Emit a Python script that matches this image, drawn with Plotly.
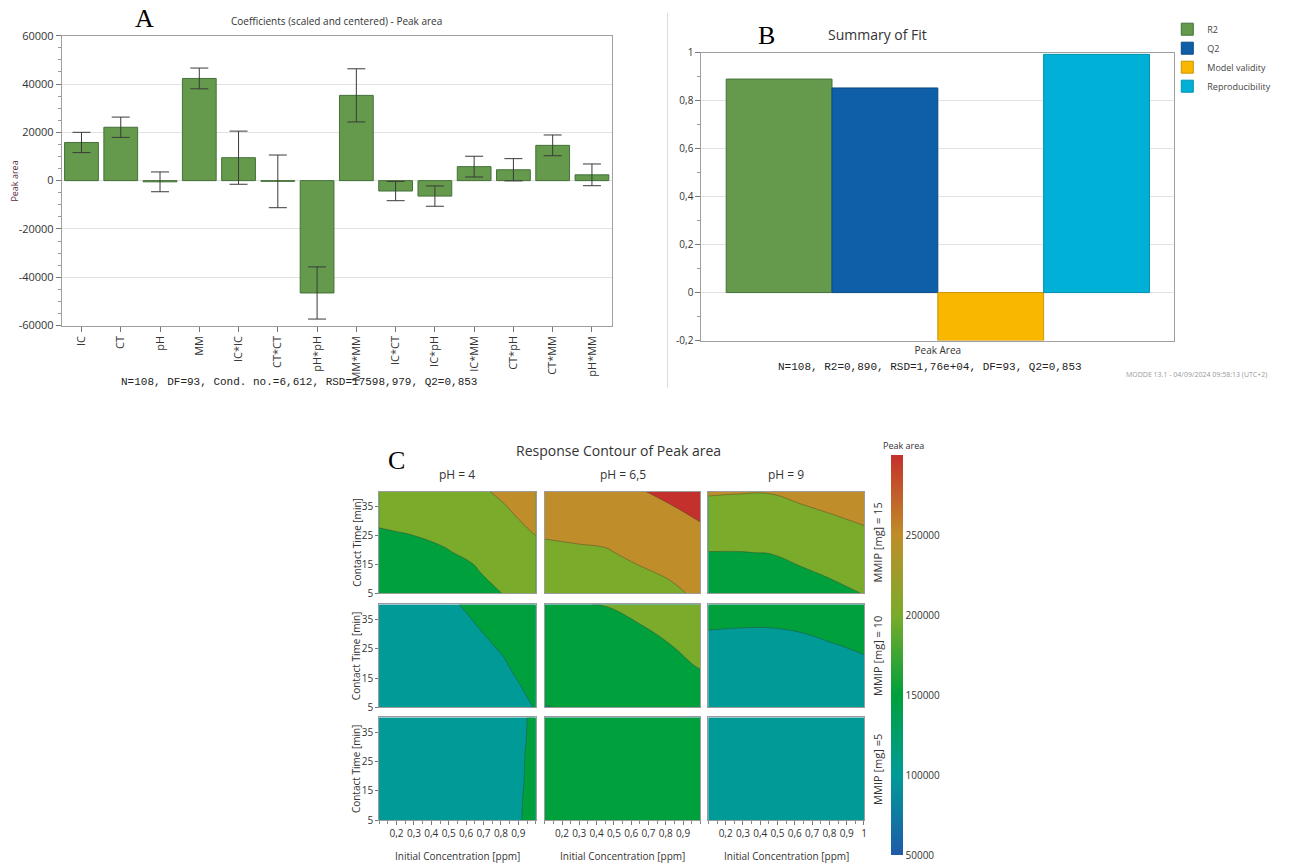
import plotly.graph_objects as go

W, H = 1295, 864
SANS = "Open Sans, Noto Sans, DejaVu Sans, sans-serif"
MONO = "Liberation Mono, DejaVu Sans Mono, monospace"
SERIF = "Liberation Serif, DejaVu Serif, serif"

# ---------------- Panel A data ----------------
COEF_TERMS = ["IC", "CT", "pH", "MM", "IC*IC", "CT*CT", "pH*pH", "MM*MM",
              "IC*CT", "IC*pH", "IC*MM", "CT*pH", "CT*MM", "pH*MM"]
COEF_VALUES = [15800, 22100, -500, 42300, 9500, -300, -46500, 35300,
               -4300, -6400, 5800, 4500, 14600, 2400]
COEF_CI = [4200, 4200, 4100, 4300, 11000, 10900, 10800, 11000,
           4000, 4200, 4300, 4600, 4300, 4500]
A_YTICKS = [-60000, -40000, -20000, 0, 20000, 40000, 60000]
A_YTICKTEXT = ["-60000", "-40000", "-20000", "0", "20000", "40000", "60000"]

# ---------------- Panel B data ----------------
FIT_CATEGORY = ["Peak Area"]
FIT_NAMES = ["R2", "Q2", "Model validity", "Reproducibility"]
FIT_VALUES = [0.890, 0.853, -0.2, 0.993]
FIT_COLORS = ["#659a4c", "#0e5fa8", "#f9b700", "#00b0d6"]
FIT_EDGES = ["#44703a", "#0a4a85", "#c99400", "#0090b0"]
B_YTICKS = [-0.2, 0, 0.2, 0.4, 0.6, 0.8, 1.0]
B_YTICKTEXT = ["-0,2", "0", "0,2", "0,4", "0,6", "0,8", "1"]

# ---------------- Panel C data (Peak area, thousands) ----------------
CONC = [0.1, 0.28, 0.46, 0.64, 0.82, 1.0]
TIME = [5, 12, 19, 26, 33, 40]
PH_LEVELS = ["pH = 4", "pH = 6,5", "pH = 9"]
MMIP_LEVELS = ["MMIP [mg] = 15", "MMIP [mg] = 10", "MMIP [mg] =5"]

Z_MM15_PH4 = [
    [145, 149, 155, 163, 176, 190],
    [155, 158, 163, 171, 187, 202],
    [164, 167, 172, 180, 199, 214],
    [173, 176, 181, 191, 211, 227],
    [182, 185, 191, 203, 221, 238],
    [190, 194, 201, 218, 231, 248],
]
Z_MM15_PH65 = [
    [200, 203, 207, 212, 219, 230],
    [209, 212, 215, 221, 228, 241],
    [219, 221, 223, 231, 240, 254],
    [228, 230, 232, 243, 253, 268],
    [236, 238, 241, 257, 269, 282],
    [244, 246, 250, 272, 284, 295],
]
Z_MM15_PH9 = [
    [139, 140, 141, 154, 165, 176],
    [157, 158, 159, 170, 180, 190],
    [174, 174, 176, 186, 195, 205],
    [193, 192, 193, 202, 211, 220],
    [211, 210, 210, 219, 227, 235],
    [229, 227, 227, 235, 242, 250],
]
Z_MM10_PH4 = [
    [95, 98, 102, 107, 114, 126],
    [97, 100, 104, 110, 118, 131],
    [99, 102, 107, 114, 123, 137],
    [101, 105, 111, 119, 128, 143],
    [103, 108, 115, 124, 134, 149],
    [105, 111, 120, 129, 140, 156],
]
Z_MM10_PH65 = [
    [124, 127, 131, 136, 142, 150],
    [136, 139, 143, 148, 154, 162],
    [148, 151, 154, 159, 165, 177],
    [158, 161, 163, 167, 174, 186],
    [167, 170, 171, 174, 183, 195],
    [174, 174.5, 175.5, 183, 191, 202],
]
Z_MM10_PH9 = [
    [100, 101, 101, 102, 104, 106],
    [106, 107, 107, 108, 110, 113],
    [112, 113, 113, 114, 117, 121],
    [119, 119, 119, 120, 124, 128],
    [127, 126, 126, 128, 132, 136],
    [134, 133, 133, 135, 139, 143],
]
Z_MM5_PH4 = [
    [101, 102, 105, 110, 120, 129],
    [101, 102, 105, 110, 119.5, 129],
    [100, 101, 104, 109, 119, 128.5],
    [100, 101, 104, 109, 118.5, 128.5],
    [99, 100, 103, 108, 118, 128],
    [99, 100, 103, 108, 117, 128],
]
Z_MM5_PH65 = [
    [142, 144, 146, 148, 151, 155],
    [143, 145, 147, 149, 152, 156],
    [144, 146, 148, 150, 153, 157],
    [145, 147, 149, 151, 154, 158],
    [146, 148, 150, 152, 155, 159],
    [147, 149, 151, 153, 156, 160],
]
Z_MM5_PH9 = [
    [98, 99, 99, 100, 101, 102],
    [99, 100, 100, 101, 102, 103],
    [100, 101, 101, 102, 103, 104],
    [101, 102, 102, 103, 104, 105],
    [102, 103, 103, 104, 105, 106],
    [103, 104, 104, 105, 106, 107],
]
Z_PANELS = [
    [Z_MM15_PH4, Z_MM15_PH65, Z_MM15_PH9],
    [Z_MM10_PH4, Z_MM10_PH65, Z_MM10_PH9],
    [Z_MM5_PH4, Z_MM5_PH65, Z_MM5_PH9],
]
C_XTICKS_SHORT = [0.2, 0.3, 0.4, 0.5, 0.6, 0.7, 0.8, 0.9]
C_XTICKS_LONG = [0.2, 0.3, 0.4, 0.5, 0.6, 0.7, 0.8, 0.9, 1.0]
C_YTICKS = [5, 15, 25, 35]
CBAR_MIN, CBAR_MAX = 50000, 300000
CBAR_TICKS = [50000, 100000, 150000, 200000, 250000]
CBAR_TICKTEXT = ["50000", "100000", "150000", "200000", "250000"]

CSCALE = [
    [0.0, "#1f5aa8"],
    [0.2, "#009b97"],
    [0.4, "#00a03c"],
    [0.6, "#7bab2b"],
    [0.8, "#bf8d29"],
    [1.0, "#c4302c"],
]


def px(x):
    return x / W


def py(y):
    yc = (y - 7.3) / 0.983
    return 1 - yc / H


fig = go.Figure()

# ---------- Panel A ----------
fig.add_trace(go.Bar(
    x=COEF_TERMS, y=COEF_VALUES, width=0.86,
    marker=dict(color="#659a4c", line=dict(color="#44703a", width=1)),
    error_y=dict(type="data", array=COEF_CI, color="#3a3a3a", thickness=1, width=9),
    xaxis="x", yaxis="y", showlegend=False, hoverinfo="skip"))

# ---------- Panel B ----------
for name, val, col, edge in zip(FIT_NAMES, FIT_VALUES, FIT_COLORS, FIT_EDGES):
    fig.add_trace(go.Bar(
        x=FIT_CATEGORY, y=[val], name=name,
        marker=dict(color=col, line=dict(color=edge, width=1)),
        xaxis="x2", yaxis="y2", hoverinfo="skip"))

# ---------- Panel C ----------
col_dom = [(380, 537), (546, 702), (710, 866)]
row_dom = [(491, 593), (604, 707), (717, 820)]
layout_axes = {}
for r in range(3):
    for c in range(3):
        k = 3 + r * 3 + c
        z = [[v * 1000 for v in row] for row in Z_PANELS[r][c]]
        fig.add_trace(go.Contour(
            x=CONC, y=TIME, z=z, xaxis=f"x{k}", yaxis=f"y{k}",
            autocontour=False,
            contours=dict(start=75000, end=275000, size=50000, coloring="fill"),
            colorscale=CSCALE, showscale=False,
            line=dict(width=0.7, color="rgba(55,55,55,0.55)", smoothing=1.3),
            hoverinfo="skip", showlegend=False))
        bottom = (r == 2)
        xt = C_XTICKS_LONG if c == 2 else C_XTICKS_SHORT
        layout_axes[f"xaxis{k}"] = dict(
            domain=[px(col_dom[c][0]), px(col_dom[c][1])], anchor=f"y{k}",
            range=[0.1, 1.0], showgrid=False, zeroline=False,
            showline=True, mirror=True, linecolor="#9c9c9c", linewidth=1,
            tickmode="array", tickvals=xt, tickangle=0,
            showticklabels=bottom, ticks="outside" if bottom else "",
            ticklen=4, tickcolor="#777",
            minor=dict(dtick=0.05, ticks="outside" if bottom else "", ticklen=3, tickcolor="#888", showgrid=False),
            tickfont=dict(size=10, color="#333"))
        layout_axes[f"yaxis{k}"] = dict(
            domain=[py(row_dom[r][1]), py(row_dom[r][0])], anchor=f"x{k}",
            range=[5, 40], showgrid=False, zeroline=False,
            showline=True, mirror=True, linecolor="#9c9c9c", linewidth=1,
            tickmode="array", tickvals=C_YTICKS,
            showticklabels=(c == 0), ticks="outside" if c == 0 else "",
            ticklen=3, tickcolor="#777",
            tickfont=dict(size=10, color="#333"))

# continuous colour bar
fig.add_trace(go.Scatter(
    x=[0.5], y=[20], mode="markers", xaxis="x11", yaxis="y11",
    marker=dict(size=1, opacity=0, color=[CBAR_MIN], cmin=CBAR_MIN, cmax=CBAR_MAX,
                colorscale=CSCALE, showscale=True,
                colorbar=dict(x=px(893), xanchor="left", y=py(855), yanchor="bottom",
                              len=py(455) - py(855), lenmode="fraction", thickness=12,
                              outlinewidth=0, tickmode="array",
                              tickvals=CBAR_TICKS, ticktext=CBAR_TICKTEXT, ticks="",
                              ypad=0, xpad=0,
                              tickfont=dict(size=10, color="#333"))),
    showlegend=False, hoverinfo="skip"))

layout_axes["xaxis"] = dict(
    domain=[px(62), px(613)], anchor="y", type="category",
    tickangle=-90, ticks="outside", ticklen=5, tickcolor="#777",
    tickfont=dict(size=11, color="#333"), showline=True, mirror=True,
    linecolor="#a0a0a0", showgrid=False, range=[-0.5, 13.5])
layout_axes["yaxis"] = dict(
    domain=[py(325), py(35)], anchor="x", range=[-60000, 60000],
    tickmode="array", tickvals=A_YTICKS, ticktext=A_YTICKTEXT,
    ticks="outside", ticklen=5, tickcolor="#777",
    minor=dict(dtick=5000, ticks="outside", ticklen=3, tickcolor="#999", showgrid=False),
    showgrid=True, gridcolor="#e2e2e2", zeroline=False,
    showline=True, mirror=True, linecolor="#a0a0a0",
    tickfont=dict(size=11, color="#333"))
layout_axes["xaxis2"] = dict(
    domain=[px(703), px(1177)], anchor="y2", type="category",
    ticks="", tickfont=dict(size=10, color="#333"), showline=True, mirror=True,
    linecolor="#a0a0a0", showgrid=False)
layout_axes["yaxis2"] = dict(
    domain=[py(340), py(52)], anchor="x2", range=[-0.2, 1.0],
    tickmode="array", tickvals=B_YTICKS, ticktext=B_YTICKTEXT,
    ticks="outside", ticklen=5, tickcolor="#777",
    minor=dict(dtick=0.1, ticks="outside", ticklen=3, tickcolor="#999", showgrid=False),
    showgrid=True, gridcolor="#e2e2e2", zeroline=False,
    showline=True, mirror=True, linecolor="#a0a0a0",
    tickfont=dict(size=10, color="#333"))

ann = []


def add_text(text, x, y, size, family=SANS, color="#333", angle=0, xanchor="center"):
    ann.append(dict(text=text, x=px(x), y=py(y), xref="paper", yref="paper",
                    showarrow=False, font=dict(size=size, family=family, color=color),
                    textangle=angle, xanchor=xanchor, yanchor="middle"))


# Panel A texts
add_text("A", 145, 18, 26, SERIF, "#000")
add_text("Coefficients (scaled and centered) - Peak area", 337, 20, 10)
add_text("Peak area", 15, 180, 9, color="#5c2b39", angle=-90)
add_text("N=108, DF=93, Cond. no.=6,612, RSD=17598,979, Q2=0,853", 300, 381, 11, MONO, "#222")
# Panel B texts
add_text("B", 768, 35, 26, SERIF, "#000")
add_text("Summary of Fit", 880, 34, 14)
add_text("N=108, R2=0,890, RSD=1,76e+04, DF=93, Q2=0,853", 932, 366, 11, MONO, "#222")
add_text("MODDE 13.1 - 04/09/2024 09:58:13 (UTC+2)", 1199, 374, 7, color="#999")
# Panel C texts
add_text("Response Contour of Peak area", 620, 450, 14)
add_text("C", 397, 460, 26, SERIF, "#000")
for c in range(3):
    cx = (col_dom[c][0] + col_dom[c][1]) / 2
    add_text(PH_LEVELS[c], cx, 474, 12)
    add_text("Initial Concentration [ppm]", cx, 856, 10)
for r in range(3):
    cy = (row_dom[r][0] + row_dom[r][1]) / 2
    add_text(MMIP_LEVELS[r], 880, cy, 11, angle=-90)
    add_text("Contact Time [min]", 357, cy, 10, angle=-90)
add_text("Peak area", 906, 445, 9)

fig.update_layout(
    width=W, height=H, margin=dict(l=0, r=0, t=0, b=0),
    paper_bgcolor="white", plot_bgcolor="white",
    font=dict(family=SANS, size=10, color="#333"),
    separators=", ",
    barmode="group", bargap=0.105, bargroupgap=0,
    showlegend=True,
    legend=dict(x=px(1170), y=py(14), xanchor="left", yanchor="top",
                font=dict(size=9, color="#444"), bgcolor="rgba(0,0,0,0)",
                itemwidth=30, tracegroupgap=0, traceorder="normal"),
    annotations=ann,
    shapes=[dict(type="line", xref="paper", yref="paper",
                 x0=px(669), x1=px(669), y0=py(12), y1=py(387),
                 line=dict(color="#dcdcdc", width=1))],
    **layout_axes,
)

fig.write_html("out.html")
